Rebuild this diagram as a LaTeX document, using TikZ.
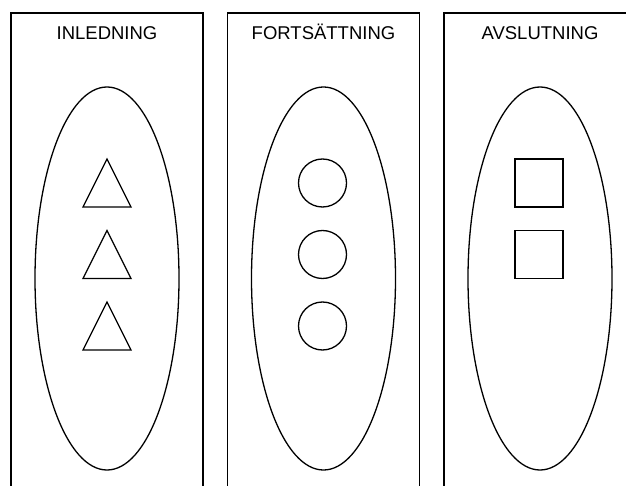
\documentclass[tikz,border=0pt]{standalone}
\usepackage{fontspec}
\setmainfont{Liberation Sans}
\usetikzlibrary{positioning,shapes.geometric}
\tikzset{
  panel/.style={draw, line width=1.6pt, anchor=north, minimum width=192pt,
                minimum height=520pt, inner sep=0pt},
  title/.style={font=\fontsize{18.5}{21}\selectfont, inner sep=0pt,
                text height=13pt, text depth=0pt},
  oval/.style={ellipse, draw, line width=1.3pt, minimum width=144pt,
               minimum height=383pt, inner sep=0pt},
  item/.style={draw, line width=1.3pt, minimum size=48pt, inner sep=0pt},
}

\begin{document}
\begin{tikzpicture}[x=1pt, y=-1pt]
    \clip (0,0) rectangle (626,486);
    \foreach \i/\x/\txt in {1/107/INLEDNING, 2/323.5/FORTSÄTTNING, 3/540/AVSLUTNING} {
      \node[panel] (p\i) at (\x,12) {};
      \node[title, below=14.5pt of p\i.north] (t\i) {\txt};
      \node[oval] (e\i) at (\x,278.5) {};
    }
    % triangles, circles and squares
    \foreach \y [count=\k] in {183,254.5,326} {
      \draw[line width=1.3pt, line join=miter] (83,\y+24) -- (107,\y-24) -- (131,\y+24) -- cycle;
      \node[item, circle] (c\k) at (322.5,\y) {};
    }
    \foreach \y [count=\k] in {183,254.5}
      \node[item, rectangle] (s\k) at (539,\y) {};
  \end{tikzpicture}
\end{document}
